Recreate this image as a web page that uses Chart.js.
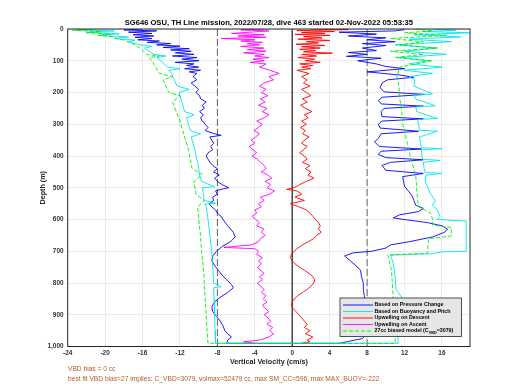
<!DOCTYPE html>
<html><head><meta charset="utf-8">
<script src="https://cdn.jsdelivr.net/npm/chart.js@4.4.1/dist/chart.umd.min.js"></script>
<style>html,body{margin:0;padding:0;background:#fff}#wrap{width:520px;height:390px;position:relative;background:#fff}</style>
</head><body><div id="wrap"><canvas id="c"></canvas></div>
<script>
// ---------------- DATA ----------------
const chartTitle = "SG646 OSU, TH Line mission, 2022/07/28, dive 463 started 02-Nov-2022 05:53:35";
const xTitle = "Vertical Velocity (cm/s)";
const yTitle = "Depth (m)";
const noteLines = ["VBD bias = 0 cc", "best fit VBD bias=27 implies: C_VBD=3079, volmax=52479 cc, max SM_CC=596, max MAX_BUOY=-222"];
const xTicks = [-24,-20,-16,-12,-8,-4,0,4,8,12,16];
const yTicks = [0,100,200,300,400,500,600,700,800,900,1000];
const xRange = [-24, 19];
const yRange = [0, 1000];
const refLinesX = [-8, 0, 8];
const seriesNames = ["Based on Pressure Change","Based on Buoyancy and Pitch","Upwelling on Descent","Upwelling on Ascent","27cc biased model (C","VBD","=3079)"];

// Based on Pressure Change (descent, then ascent)
const pressDescDepth = [0,3,6,10,14,18,22,26,30,34,38,42,46,50,54,58,62,66,70,75,80,85,90,95,100,105,110,115,120,125,130,135,140,150,160,170,180,190,200,210,220,230,240,250,260,270,280,290,300,310,320,330,335,340,350,360,370,380,390,400,410,420,430,440,450,460,470,480,490,500,505,510,520,530,540,550,560,570,580,590,600,620,640,655,670,685,700,715,730,745,760,775,790,805,815,830,845,860,875,890,905,920,935,950,960,970,980,990];
const pressDescW = [-16.0,-18.0,-14.5,-17.5,-15.0,-17.0,-14.8,-16.8,-15.0,-16.5,-14.2,-15.5,-13.0,-14.5,-12.0,-13.8,-11.0,-13.0,-10.8,-12.5,-10.5,-12.8,-10.2,-11.8,-10.0,-12.5,-10.5,-11.3,-10.0,-11.5,-9.8,-11.0,-10.2,-10.6,-10.2,-10.8,-10.4,-10.0,-10.3,-9.9,-9.8,-9.2,-9.6,-9.4,-9.9,-9.5,-9.8,-9.6,-9.3,-9.0,-9.3,-8.3,-7.6,-8.8,-8.6,-8.4,-8.7,-8.5,-9.0,-9.2,-9.0,-8.8,-8.5,-8.0,-8.4,-7.8,-8.3,-8.0,-7.5,-6.8,-7.6,-8.2,-8.0,-8.5,-8.4,-8.9,-8.6,-8.2,-8.0,-7.6,-7.4,-6.9,-6.3,-6.1,-6.6,-7.5,-8.1,-8.5,-8.6,-8.3,-7.9,-7.5,-7.0,-6.5,-6.3,-6.9,-7.7,-8.3,-8.6,-8.5,-8.1,-7.7,-7.4,-7.2,-6.9,-6.5,-6.9,-7.0];
const pressAscDepth = [990,975,960,940,920,900,880,860,840,820,800,780,760,745,730,715,705,700,690,680,670,655,640,630,620,610,600,595,585,575,565,555,540,525,510,495,480,465,455,445,430,420,412,405,395,385,378,370,355,345,330,322,312,300,290,283,276,260,250,243,236,225,215,206,198,185,170,160,152,145,135,125,118,110,100,92,86,80,74,68,60,52,46,40,34,28,22,16,10,6,2];
const pressAscW = [5.0,7.5,8.0,8.1,7.9,7.8,7.8,7.8,7.7,7.6,7.6,7.4,7.3,6.8,6.2,5.6,6.5,8.5,10.0,10.5,12.5,15.0,16.3,16.6,16.0,14.5,12.0,10.8,11.5,13.5,14.0,13.2,13.0,12.8,12.4,12.0,11.9,11.8,14.0,10.0,9.6,10.5,14.0,10.0,9.2,9.5,13.8,9.3,8.8,9.2,9.5,13.5,9.4,9.2,9.6,14.0,9.6,9.5,9.8,14.0,9.5,9.2,9.6,14.2,9.8,9.4,9.6,10.2,13.0,11.5,8.0,12.0,10.0,9.0,7.0,9.5,5.8,8.0,6.0,9.0,7.5,10.0,7.5,11.0,8.0,10.0,6.0,9.0,5.0,11.0,12.0];

// Based on Buoyancy and Pitch
const buoyDescDepth = [0,3,6,10,15,20,25,30,35,40,50,55,60,70,80,85,90,100,110,120,125,130,140,160,180,190,200,220,240,260,270,280,300,320,330,340,360,380,400,420,440,460,480,497,500,520,540,549,552,560,580,600,650,700,750,800,812,815,850,900,950,990];
const buoyDescW = [-21.0,-23.0,-19.0,-22.0,-18.5,-20.5,-17.5,-19.0,-16.8,-17.5,-16.2,-15.0,-15.8,-15.3,-14.8,-13.5,-14.5,-14.0,-13.7,-13.3,-12.0,-13.2,-12.9,-12.6,-12.3,-11.0,-12.1,-11.9,-11.7,-11.5,-10.5,-11.3,-11.1,-10.9,-9.8,-10.8,-10.6,-10.4,-10.3,-10.1,-10.0,-9.9,-9.7,-8.3,-9.6,-9.5,-9.4,-8.2,-9.35,-9.2,-9.1,-9.0,-8.8,-8.6,-8.5,-8.4,-7.6,-8.4,-8.35,-8.3,-8.25,-8.2];
const buoyAscDepth = [990,960,945,942,900,860,858,820,780,740,720,712,708,702,700,605,600,590,570,555,540,520,500,480,460,455,452,440,420,414,410,380,377,374,340,322,319,300,285,282,260,245,242,220,208,205,180,160,150,140,130,120,110,100,90,80,70,60,50,40,32,25,18,12,8,4,0];
const buoyAscW = [11.3,11.3,11.5,12.3,11.2,11.2,12.0,11.1,11.0,10.8,10.6,10.5,15.0,16.0,18.6,18.6,15.5,15.8,15.5,15.0,15.3,14.8,14.5,14.2,14.3,16.0,14.2,14.1,14.0,15.8,13.9,13.8,16.0,13.8,13.6,15.5,13.6,13.5,13.4,15.5,13.3,13.2,15.3,13.2,13.0,15.0,13.0,13.1,12.5,15.0,12.0,16.0,12.5,14.5,11.5,16.5,12.0,15.5,11.0,17.0,12.5,18.0,13.0,19.0,14.0,17.5,15.0];

// Upwelling on Descent
const upDescDepth = [0,2,5,8,11,14,17,20,24,28,32,36,40,44,48,52,56,60,64,68,72,76,80,85,90,95,100,105,110,115,120,125,130,140,150,160,170,180,190,200,210,220,230,240,250,260,270,280,290,300,310,320,330,340,350,360,370,380,390,400,410,420,430,440,450,460,470,480,490,500,505,510,520,530,540,550,560,570,580,590,600,610,620,630,640,650,660,670,680,690,700,710,720,730,740,750,760,770,780,790,800,810,820,830,840,850,860,870,880,890,900,910,920,930,940,950,960,970,980,985,990];
const upDescW = [2.0,6.0,0.5,4.5,1.0,3.5,0.3,4.0,1.2,3.2,0.6,4.0,1.5,2.8,0.4,3.5,1.0,3.0,0.8,2.5,1.2,4.3,1.0,2.6,0.6,2.4,1.4,3.0,0.8,2.2,1.0,2.0,0.5,1.8,1.0,1.6,1.2,1.9,1.0,1.5,2.0,1.1,1.6,0.9,1.4,2.1,1.3,1.7,1.0,1.5,0.9,1.4,1.1,1.8,1.3,1.0,1.6,1.2,0.8,1.3,1.6,1.1,1.9,1.4,2.0,1.7,2.3,1.5,0.8,0.2,-0.6,0.5,1.0,0.3,1.3,-0.2,0.7,1.5,1.9,2.2,2.5,2.8,3.0,2.8,3.1,2.6,2.3,1.7,1.1,0.6,0.2,-0.1,-0.2,0.0,0.3,0.8,1.3,1.8,2.2,2.4,2.3,2.0,1.6,1.1,0.6,0.2,0.0,-0.1,0.1,0.4,0.7,1.0,1.3,1.6,1.3,1.9,1.4,2.2,1.6,1.9,1.0];

// Upwelling on Ascent
const upAscDepth = [0,3,6,10,14,18,22,26,30,34,38,42,46,50,55,60,65,70,75,80,85,90,95,100,105,110,120,130,140,150,160,170,180,190,200,210,220,230,240,250,260,270,280,290,300,310,320,330,340,350,360,370,380,390,400,410,420,430,440,450,460,470,480,490,500,510,520,530,540,550,560,570,580,590,600,610,620,630,640,650,660,670,680,688,692,700,710,720,730,740,750,760,770,780,790,800,810,820,830,840,850,860,870,880,890,900,910,920,930,940,950,960,970,980,985,990];
const upAscW = [-3.0,-5.5,-2.5,-4.5,-6.5,-3.0,-5.8,-2.8,-7.6,-4.0,-5.5,-3.2,-4.8,-3.5,-5.5,-3.0,-4.8,-2.8,-5.2,-3.0,-4.0,-2.5,-4.2,-3.0,-4.5,-2.8,-3.5,-2.4,-1.4,-2.5,-2.0,-3.0,-3.5,-2.8,-3.3,-2.6,-3.4,-2.9,-3.6,-2.7,-3.2,-2.5,-3.0,-3.8,-3.2,-3.6,-4.1,-3.5,-3.9,-4.4,-4.0,-4.6,-4.2,-3.8,-4.3,-3.7,-3.4,-3.0,-2.8,-3.3,-2.6,-2.2,-2.9,-2.3,-2.7,-1.9,-2.4,-3.4,-3.0,-3.6,-3.3,-4.0,-3.8,-4.3,-3.9,-3.5,-3.8,-3.0,-3.3,-2.9,-3.4,-3.6,-4.4,-7.3,-4.0,-3.6,-3.8,-3.2,-3.6,-3.3,-3.7,-3.4,-3.0,-3.5,-3.2,-3.7,-3.4,-3.0,-3.3,-2.8,-3.1,-2.7,-3.2,-2.9,-2.5,-3.0,-2.6,-2.3,-2.7,-2.1,-2.4,-2.0,-2.5,-3.5,-5.2,-4.0];

// 27cc biased model
const modelDescDepth = [0,4,8,12,16,20,25,30,35,40,50,60,70,80,85,90,100,120,140,150,160,180,200,210,230,260,290,320,350,380,410,440,458,480,520,540,560,600,650,700,750,800,850,900,950,990];
const modelDescW = [-21.5,-23.5,-20.5,-22.0,-19.5,-20.8,-19.0,-18.8,-18.0,-17.5,-16.8,-16.3,-15.9,-15.6,-14.2,-15.3,-15.0,-14.6,-14.2,-12.8,-13.8,-13.5,-13.2,-12.0,-12.8,-12.4,-12.0,-11.7,-11.4,-11.1,-10.9,-10.7,-9.6,-10.5,-10.3,-9.4,-10.1,-10.0,-9.8,-9.7,-9.5,-9.4,-9.3,-9.2,-9.1,-9.0];
const modelAscDepth = [990,940,900,850,800,760,720,712,706,680,660,652,648,625,618,600,580,560,540,500,460,440,400,360,320,300,260,220,180,150,120,100,90,80,70,60,50,40,30,20,12,6,0];
const modelAscW = [11.0,11.0,10.9,10.8,10.7,10.6,10.3,10.2,14.5,14.5,14.6,17.0,17.0,17.0,15.0,15.0,14.8,13.5,13.4,13.3,13.2,13.0,12.6,12.3,12.0,11.8,11.7,11.5,11.4,11.2,11.5,15.0,11.0,14.0,10.5,15.5,11.5,14.0,10.5,16.5,12.0,15.0,13.0];

// ---------------- BUILD ----------------
const FONT = '"Liberation Sans", Arial, sans-serif';
const toPts = (d, w) => d.map((y, i) => ({x: w[i], y: y}));
const lineDs = (label, pts, color, order, dash) => ({
  label, data: pts, showLine: true, borderColor: color, backgroundColor: color,
  borderWidth: 0.9, pointRadius: 0, pointHoverRadius: 0, tension: 0,
  borderDash: dash || [], borderJoinStyle: 'round', order, fill: false
});
const datasets = [];
refLinesX.forEach(v => {
  datasets.push(Object.assign(lineDs('ref' + v, yRange.map(d => ({x: v, y: d})), '#404040', 10, v === 0 ? [] : [7, 3]), {borderWidth: 0.8}));
});
datasets.push(lineDs(seriesNames[0], toPts(pressDescDepth, pressDescW).concat(toPts(pressAscDepth, pressAscW)), '#0000ff', 5));
datasets.push(lineDs(seriesNames[1], toPts(buoyDescDepth, buoyDescW).concat(toPts(buoyAscDepth, buoyAscW)), '#00e5ee', 4));
datasets.push(lineDs(seriesNames[2], toPts(upDescDepth, upDescW), '#ff0000', 3));
datasets.push(lineDs(seriesNames[3], toPts(upAscDepth, upAscW), '#ff00ff', 2));
datasets.push(lineDs(seriesNames[4], toPts(modelDescDepth, modelDescW).concat(toPts(modelAscDepth, modelAscW)), '#00ee00', 1, [4, 2]));

const legendItems = [
  {text: [seriesNames[0]], color: '#0000ff', dash: []},
  {text: [seriesNames[1]], color: '#00e5ee', dash: []},
  {text: [seriesNames[2]], color: '#ff0000', dash: []},
  {text: [seriesNames[3]], color: '#ff00ff', dash: []},
  {text: [seriesNames[4], seriesNames[5], seriesNames[6]], color: '#00ee00', dash: [4, 2]}
];

const overlay = {
  id: 'overlay',
  afterDraw(chart) {
    const ctx = chart.ctx, a = chart.chartArea;
    ctx.save();
    // axes box
    ctx.strokeStyle = '#262626'; ctx.lineWidth = 1; ctx.setLineDash([]);
    ctx.strokeRect(a.left, a.top, a.right - a.left, a.bottom - a.top);
    const cx = (a.left + a.right) / 2;
    // title
    ctx.fillStyle = '#000'; ctx.textAlign = 'center'; ctx.textBaseline = 'middle';
    ctx.font = 'bold 7.6px ' + FONT;
    ctx.fillText(chartTitle, cx, 22.5);
    // x title
    ctx.fillStyle = '#262626';
    ctx.font = 'bold 7.2px ' + FONT;
    ctx.fillText(xTitle, cx, 362);
    // y title
    ctx.save(); ctx.translate(43, (a.top + a.bottom) / 2); ctx.rotate(-Math.PI / 2);
    ctx.fillText(yTitle, 0, 0); ctx.restore();
    // notes
    ctx.fillStyle = '#b35a28'; ctx.textAlign = 'left'; ctx.font = '6.65px ' + FONT;
    ctx.fillText(noteLines[0], 68, 369);
    ctx.fillText(noteLines[1], 68, 379);
    // legend
    const lx = 340, ly = 298, lw = 121.5, lh = 38.5;
    ctx.fillStyle = '#e6e6e6'; ctx.fillRect(lx, ly, lw, lh);
    ctx.strokeStyle = '#262626'; ctx.lineWidth = 0.8; ctx.strokeRect(lx, ly, lw, lh);
    legendItems.forEach((it, i) => {
      const y = 305 + i * 6.5;
      ctx.strokeStyle = it.color; ctx.lineWidth = 0.9; ctx.setLineDash(it.dash);
      ctx.beginPath(); ctx.moveTo(343, y); ctx.lineTo(373, y); ctx.stroke();
      ctx.setLineDash([]);
      ctx.fillStyle = '#000'; ctx.textAlign = 'left'; ctx.textBaseline = 'middle';
      ctx.font = 'bold 5.3px ' + FONT;
      let x = 374.5;
      ctx.fillText(it.text[0], x, y); x += ctx.measureText(it.text[0]).width;
      if (it.text.length > 1) {
        ctx.font = 'bold 3.8px ' + FONT;
        ctx.fillText(it.text[1], x, y + 1.5); x += ctx.measureText(it.text[1]).width;
        ctx.font = 'bold 5.3px ' + FONT;
        ctx.fillText(it.text[2], x, y);
      }
    });
    ctx.restore();
  }
};

new Chart(document.getElementById('c'), {
  type: 'scatter',
  data: {datasets},
  plugins: [overlay],
  options: {
    responsive: true, maintainAspectRatio: false, animation: false, devicePixelRatio: 1,
    layout: {padding: {top: 29, right: 50, bottom: 0, left: 0}},
    plugins: {legend: {display: false}, title: {display: false}, tooltip: {enabled: false}},
    scales: {
      x: {
        type: 'linear', min: xRange[0], max: xRange[1],
        afterBuildTicks: s => { s.ticks = xTicks.map(v => ({value: v})); },
        afterFit: s => { s.height = 43.5; },
        grid: {color: '#e6e6e6', lineWidth: 0.8, drawTicks: false},
        border: {display: false},
        ticks: {padding: 2.5, color: '#333', font: {family: FONT, size: 6.5, weight: 'bold'}, maxRotation: 0, autoSkip: false}
      },
      y: {
        type: 'linear', reverse: true, min: yRange[0], max: yRange[1],
        afterBuildTicks: s => { s.ticks = yTicks.map(v => ({value: v})); },
        afterFit: s => { s.width = 67.7; },
        grid: {color: '#e6e6e6', lineWidth: 0.8, drawTicks: false},
        border: {display: false},
        ticks: {padding: 4, color: '#333', font: {family: FONT, size: 6.5, weight: 'bold'}, autoSkip: false}
      }
    }
  }
});
</script>
</body></html>
